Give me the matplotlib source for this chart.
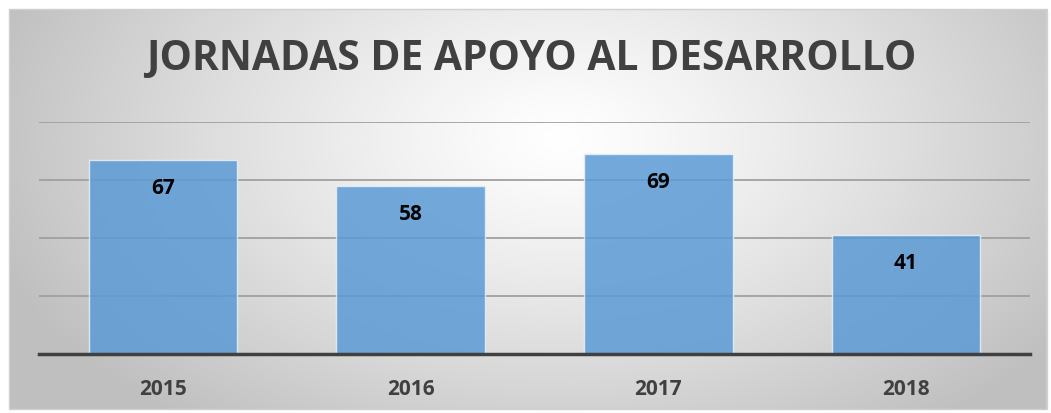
import numpy as np
import matplotlib
matplotlib.use("Agg")
import matplotlib.pyplot as plt

categories = ["2015", "2016", "2017", "2018"]
values = [67, 58, 69, 41]
title = "JORNADAS DE APOYO AL DESARROLLO"

W, H = 1051, 414
fig = plt.figure(figsize=(W / 100, H / 100), dpi=100)
plt.rcParams['font.family'] = ['Open Sans', 'DejaVu Sans']

# radial gradient background
bg = fig.add_axes([0, 0, 1, 1])
bg.set_axis_off()
yy, xx = np.mgrid[0:H, 0:W]
cx, cy = 560, 140
d = np.sqrt(((xx - cx) / 600.0) ** 2 + ((yy - cy) / 360.0) ** 2)
g = 1.0 - 0.25 * np.clip(d, 0, 1.0) ** 1.2
img = np.dstack([g, g, g])
bg.imshow(img, extent=[0, W, H, 0], aspect='auto')
# outer white margin + border
bg.add_patch(plt.Rectangle((0, 0), W, 9, color='white', zorder=2))
bg.add_patch(plt.Rectangle((0, H - 3), W, 3, color='white', zorder=2))
bg.add_patch(plt.Rectangle((0, 0), 8, H, color='white', zorder=2))
bg.add_patch(plt.Rectangle((W - 4, 0), 4, H, color='white', zorder=2))
bg.add_patch(plt.Rectangle((8.5, 9.5), W - 13, H - 13, fill=False, ec='#d0d0d0', lw=1, zorder=3))
bg.set_xlim(0, W)
bg.set_ylim(H, 0)

ax = fig.add_axes([39 / W, 59 / H, (1030 - 39) / W, (291 - 59) / H])
ax.patch.set_alpha(0)
x = np.arange(len(categories))
ax.bar(x, values, width=0.6, color='#5B9BD5', alpha=0.85, edgecolor='#e8f0f8', linewidth=1.0, zorder=3)
ax.set_xlim(-0.5, len(categories) - 0.5)
ax.set_ylim(0, 80)
ax.set_yticks([20, 40, 60, 80])
ax.yaxis.grid(True, color='#a0a0a0', linewidth=1.3, zorder=1)
ax.set_axisbelow(True)
ax.tick_params(axis='y', left=False, labelleft=False)
ax.tick_params(axis='x', bottom=False, pad=14)
ax.set_xticks(x)
ax.set_xticklabels(categories, fontsize=15, fontweight='bold', color='#404040')
for s in ['top', 'left', 'right']:
    ax.spines[s].set_visible(False)
ax.spines['bottom'].set_color('#404040')
ax.spines['bottom'].set_linewidth(2.5)
ax.spines['bottom'].set_zorder(4)

for xi, v in zip(x, values):
    ax.annotate(str(v), (xi, v), xytext=(0, -20), textcoords='offset points',
                ha='center', va='center', fontsize=15, fontweight='bold', color='black', zorder=5)

fig.text(531 / W, 1 - 59 / H, title, ha='center', va='center', fontsize=29.3,
         fontweight='bold', color='#404040')

fig.savefig('out.png', dpi=100)
